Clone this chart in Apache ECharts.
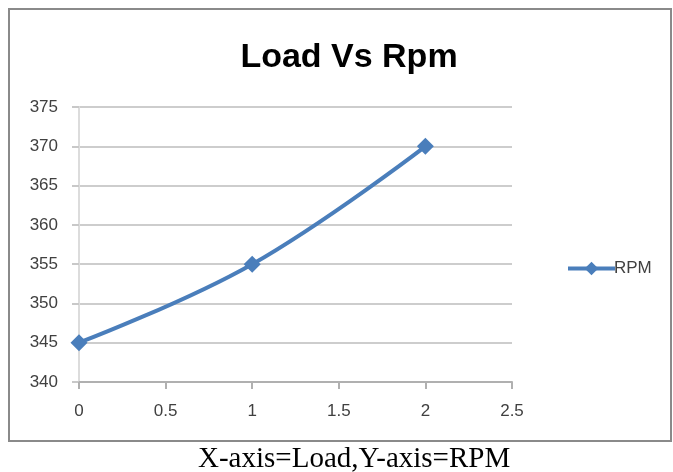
<!DOCTYPE html>
<html>
<head>
<meta charset="utf-8">
<script src="https://cdn.jsdelivr.net/npm/echarts@6/dist/echarts.min.js"></script>
<style>
html,body{margin:0;padding:0;background:#fff;}
#chart{width:673px;height:472px;}
</style>
</head>
<body>
<div id="chart"></div>
<script>
var loadValues = [0, 1, 2];
var rpmValues = [345, 355, 370];
var seriesName = 'RPM';
var titleText = 'Load Vs Rpm';
var captionText = 'X-axis=Load,Y-axis=RPM';

var sansFont = '"Liberation Sans", Arial, sans-serif';
var chart = echarts.init(document.getElementById('chart'), null, {renderer: 'canvas'});
var pts = loadValues.map(function (x, i) { return [x, rpmValues[i]]; });

chart.setOption({
  animation: false,
  backgroundColor: '#ffffff',
  title: {
    text: titleText,
    left: 344,
    textAlign: 'center',
    top: 36,
    textStyle: {fontFamily: sansFont, fontWeight: 'bold', fontSize: 34, color: '#000'}
  },
  legend: {
    data: [{name: seriesName, itemStyle: {color: '#4a7ebb'}}],
    left: 561,
    top: 255,
    itemWidth: 47,
    itemHeight: 17,
    itemGap: 2,
    lineStyle: {width: 4},
    textStyle: {fontFamily: sansFont, fontSize: 17, color: '#404040', padding: [0,0,0,-6]}
  },
  grid: {left: 79, right: 161, top: 107, bottom: 90, containLabel: false},
  xAxis: {
    type: 'value',
    min: 0, max: 2.5, interval: 0.5,
    axisLine: {show: true, lineStyle: {color: '#b0b0b0', width: 2}},
    axisTick: {show: true, length: 7, lineStyle: {color: '#b0b0b0', width: 2}},
    splitLine: {show: false},
    axisLabel: {margin: 21, fontFamily: sansFont, fontSize: 17, color: '#404040'}
  },
  yAxis: {
    type: 'value',
    min: 340, max: 375, interval: 5,
    axisLine: {show: true, onZero: false, lineStyle: {color: '#dcdcdc', width: 2}},
    axisTick: {show: true, length: 7, lineStyle: {color: '#c8c8c8', width: 2}},
    splitLine: {show: true, lineStyle: {color: '#cdcdcd', width: 2}},
    axisLabel: {margin: 21, fontFamily: sansFont, fontSize: 17, color: '#404040'}
  },
  graphic: [
    {type: 'rect', shape: {x: 9, y: 9, width: 662, height: 432},
     style: {fill: 'none', stroke: '#8a8a8a', lineWidth: 2}, silent: true, z: -1},
    {type: 'text', left: 198, top: 445,
     style: {text: captionText, font: '29px "Liberation Serif", "DejaVu Serif", serif', fill: '#000'}}
  ],
  series: [{
    name: seriesName,
    type: 'line',
    data: pts,
    smooth: 0.4,
    symbol: 'diamond',
    symbolSize: 17,
    lineStyle: {color: '#4a7ebb', width: 4},
    itemStyle: {color: '#4a7ebb'}
  }]
});
</script>
</body>
</html>
